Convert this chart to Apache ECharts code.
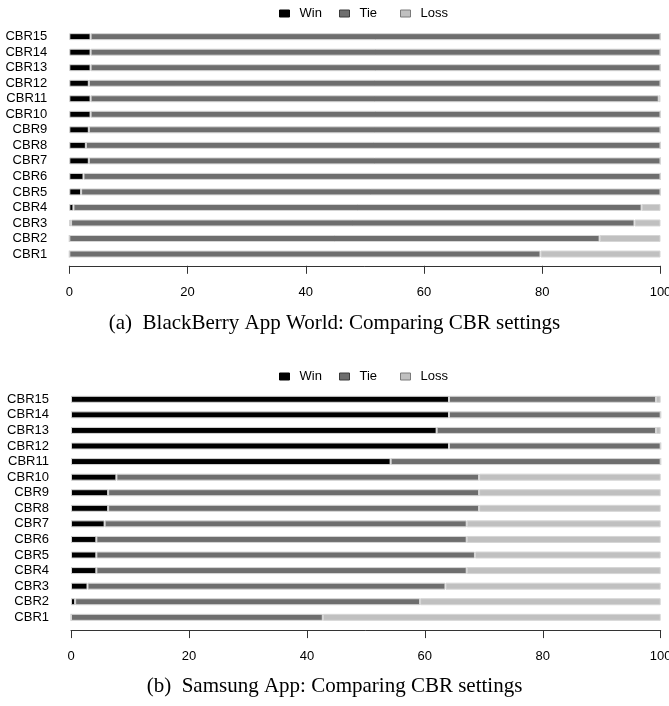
<!DOCTYPE html>
<html>
<head>
<meta charset="utf-8">
<script src="https://cdn.jsdelivr.net/npm/echarts@6/dist/echarts.min.js"></script>
<style>html,body{margin:0;padding:0;background:#fff;}#c{width:669px;height:706px;}</style>
</head>
<body>
<div id="c"></div>
<script>
var categories = ['CBR1','CBR2','CBR3','CBR4','CBR5','CBR6','CBR7','CBR8','CBR9','CBR10','CBR11','CBR12','CBR13','CBR14','CBR15'];
var xTicks = [0, 20, 40, 60, 80, 100];
var bbWin  = [0, 0, 0.3, 0.7, 2.0, 2.4, 3.3, 2.8, 3.3, 3.6, 3.6, 3.3, 3.6, 3.6, 3.6];
var bbTie  = [79.7, 89.7, 95.3, 96.1, 98.0, 97.6, 96.7, 97.2, 96.7, 96.4, 96.1, 96.7, 96.4, 96.4, 96.4];
var bbLoss = [20.3, 10.3, 4.4, 3.2, 0, 0, 0, 0, 0, 0, 0.3, 0, 0, 0, 0];
var ssWin  = [0, 0.7, 2.8, 4.3, 4.3, 4.3, 5.7, 6.3, 6.3, 7.7, 54.2, 64.1, 62.0, 64.1, 64.1];
var ssTie  = [42.7, 58.5, 60.7, 62.8, 64.2, 62.8, 61.4, 62.9, 62.9, 61.5, 45.8, 35.9, 37.2, 35.9, 35.1];
var ssLoss = [57.3, 40.8, 36.5, 32.9, 31.5, 32.9, 32.9, 30.8, 30.8, 30.8, 0, 0, 0.8, 0, 0.8];
var captions = ['(a)  BlackBerry App World: Comparing CBR settings', '(b)  Samsung App: Comparing CBR settings'];

var colors = {Win: '#000000', Tie: '#6e6e6e', Loss: '#c0c0c0'};
var legendBorder = {Win: '#000000', Tie: '#3a3a3a', Loss: '#7a7a7a'};
var sans = 'Liberation Sans, Arial, sans-serif';
var serif = 'Liberation Serif, Times New Roman, serif';

var chart = echarts.init(document.getElementById('c'), null, {renderer: 'canvas'});

var grids = [
  {left: 69.3, right: 8.5, top: 28.9, height: 232.9, outerBoundsMode: 'none', containLabel: false},
  {left: 71, right: 8.3, top: 391.5, height: 233.6, outerBoundsMode: 'none', containLabel: false}
];
var axisOffset = [4, 5];
var legendTops = [7, 370];
var legendLefts = {Win: 279, Tie: 339, Loss: 400};

function mkX(i) {
  return {
    type: 'value', gridIndex: i, min: 0, max: 100, interval: 20,
    offset: axisOffset[i],
    splitLine: {show: false},
    axisLine: {show: true, lineStyle: {color: '#333', width: 1}},
    axisTick: {show: true, length: 8, lineStyle: {color: '#333'}},
    axisLabel: {
      color: '#000', fontFamily: sans, fontSize: 13, margin: 20,
      formatter: function (v) { return xTicks.indexOf(v) >= 0 ? String(v) : ''; }
    }
  };
}
function mkY(i) {
  return {
    type: 'category', gridIndex: i, data: categories,
    axisLine: {show: false}, axisTick: {show: false}, splitLine: {show: false},
    axisLabel: {color: '#000', fontFamily: sans, fontSize: 13, margin: 22, interval: 0}
  };
}
function mkSeries(name, data, i) {
  return {
    name: name, type: 'bar', stack: 's' + i, xAxisIndex: i, yAxisIndex: i,
    data: data, barWidth: 7,
    itemStyle: {color: colors[name], borderColor: '#d6d6d6', borderWidth: 1},
    emphasis: {disabled: true}
  };
}
var legends = [];
[0, 1].forEach(function (i) {
  ['Win', 'Tie', 'Loss'].forEach(function (n) {
    legends.push({
      top: legendTops[i], left: legendLefts[n], padding: 0,
      data: [{name: n, itemStyle: {color: colors[n], borderColor: legendBorder[n], borderWidth: 1}}],
      icon: 'rect', itemWidth: 10, itemHeight: 7, selectedMode: false,
      textStyle: {fontFamily: sans, fontSize: 13, color: '#000', padding: [0, 0, 0, 5]}
    });
  });
});

chart.setOption({
  animation: false,
  title: [
    {text: captions[0], left: 'center', top: 313, padding: 0, textStyle: {fontFamily: serif, fontSize: 21, fontWeight: 'normal', color: '#000'}},
    {text: captions[1], left: 'center', top: 676, padding: 0, textStyle: {fontFamily: serif, fontSize: 21, fontWeight: 'normal', color: '#000'}}
  ],
  legend: legends,
  grid: grids,
  xAxis: [mkX(0), mkX(1)],
  yAxis: [mkY(0), mkY(1)],
  series: [
    mkSeries('Win', bbWin, 0), mkSeries('Tie', bbTie, 0), mkSeries('Loss', bbLoss, 0),
    mkSeries('Win', ssWin, 1), mkSeries('Tie', ssTie, 1), mkSeries('Loss', ssLoss, 1)
  ]
});
</script>
</body>
</html>
